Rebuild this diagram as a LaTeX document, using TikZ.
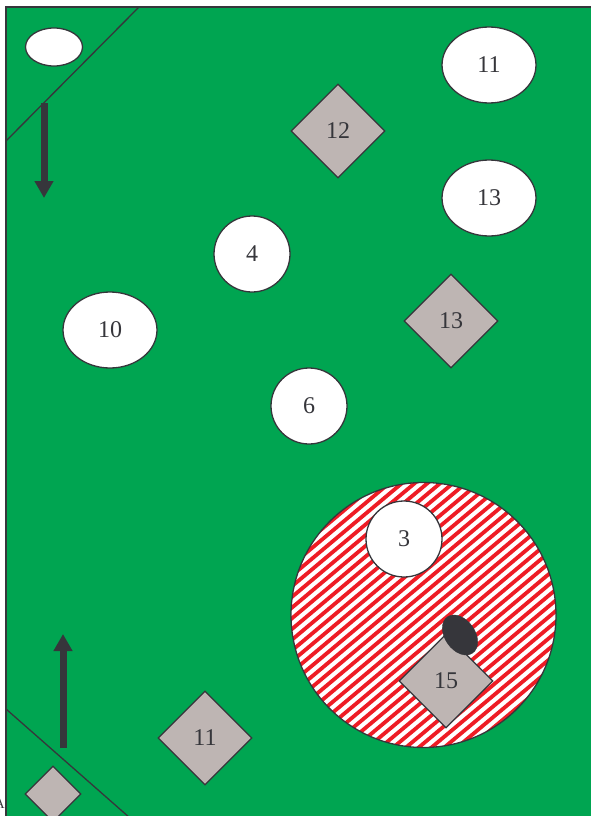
\documentclass[tikz,border=0pt]{standalone}
\usepackage{fontspec}
\setmainfont{Liberation Serif}
\usetikzlibrary{shapes.geometric,arrows.meta}
\definecolor{field}{HTML}{00A551}
\definecolor{ink}{HTML}{36363B}
\definecolor{cone}{HTML}{BEB5B3}
\definecolor{stripe}{HTML}{EE1C25}
\tikzset{
  outline/.style={draw=ink, line width=1.3pt},
  player/.style={outline, ellipse, fill=white, inner sep=0pt, text=ink, font=\fontsize{24}{24}\selectfont},
  marker/.style={outline, diamond, fill=cone, inner sep=0pt, minimum width=94pt, minimum height=94pt, text=ink, font=\fontsize{24}{24}\selectfont},
  runarrow/.style={draw=ink, line width=7pt, -{Triangle[length=17pt,width=18pt]}},
}
\begin{document}
\begin{tikzpicture}[x=1pt,y=-1pt]
\useasboundingbox (0,0) rectangle (590,816);
% field
\fill[field] (6,7) rectangle (592,818);
\draw[draw=ink, line width=1.5pt] (6,818) -- (6,7) -- (592,7);
% zone lines
\coordinate (tl1) at (6,141);
\coordinate (tl2) at (139,7);
\draw[outline] (tl1) -- (tl2);
\coordinate (bl1) at (6,709);
\coordinate (bl2) at (130,818);
\draw[outline] (bl1) -- (bl2);
% hatched circle
\coordinate (zc) at (423.5,615);
\begin{scope}
  \clip (zc) circle (132.5);
  \fill[white] (zc) circle (132.5);
  \begin{scope}[shift={(zc)}, rotate=40]
    \foreach \i in {-18,...,18} {
      \draw[stripe, line width=3.8pt] (-200,\i*8.2) -- (200,\i*8.2);
    }
  \end{scope}
\end{scope}
\node[outline, circle, minimum size=265pt, inner sep=0pt] (zone) at (zc) {};
% players
\node[player, minimum width=57pt, minimum height=38pt] (p0) at (54,47) {};
\node[player, minimum width=94pt, minimum height=76pt] (p11) at (489,65) {11};
\node[player, minimum width=94pt, minimum height=76pt] (p13) at (489,198) {13};
\node[player, minimum width=76pt, minimum height=76pt] (p4) at (252,254) {4};
\node[player, minimum width=94pt, minimum height=76pt] (p10) at (110,330) {10};
\node[player, minimum width=76pt, minimum height=76pt] (p6) at (309,406) {6};
\node[player, minimum width=76pt, minimum height=76pt] (p3) at (404,539) {3};
% markers
\node[marker] (m12) at (338,131) {12};
\node[marker] (m13) at (451,321) {13};
\node[marker] (m11) at (205,738) {11};
\node[marker] (m15) at (446,681) {15};
\node[outline, diamond, fill=cone, inner sep=0pt, minimum width=56pt, minimum height=56pt] (m0) at (53,794) {};
% ball
\node[ellipse, fill=ink, draw=ink, minimum width=44pt, minimum height=30pt, inner sep=0pt, rotate=-55] (ball) at (460,635) {};
% arrows
\coordinate (a1s) at (44,103);
\coordinate (a1e) at (44,198);
\draw[runarrow] (a1s) -- (a1e);
\coordinate (a2s) at (63,748);
\coordinate (a2e) at (63,634);
\draw[runarrow] (a2s) -- (a2e);
% partial label (cut by the left edge, as in the reference)
\node[anchor=base east, inner sep=0pt, text=ink, font=\fontsize{14}{14}\selectfont] (lblA) at (5,808) {A};
\end{tikzpicture}
\end{document}
